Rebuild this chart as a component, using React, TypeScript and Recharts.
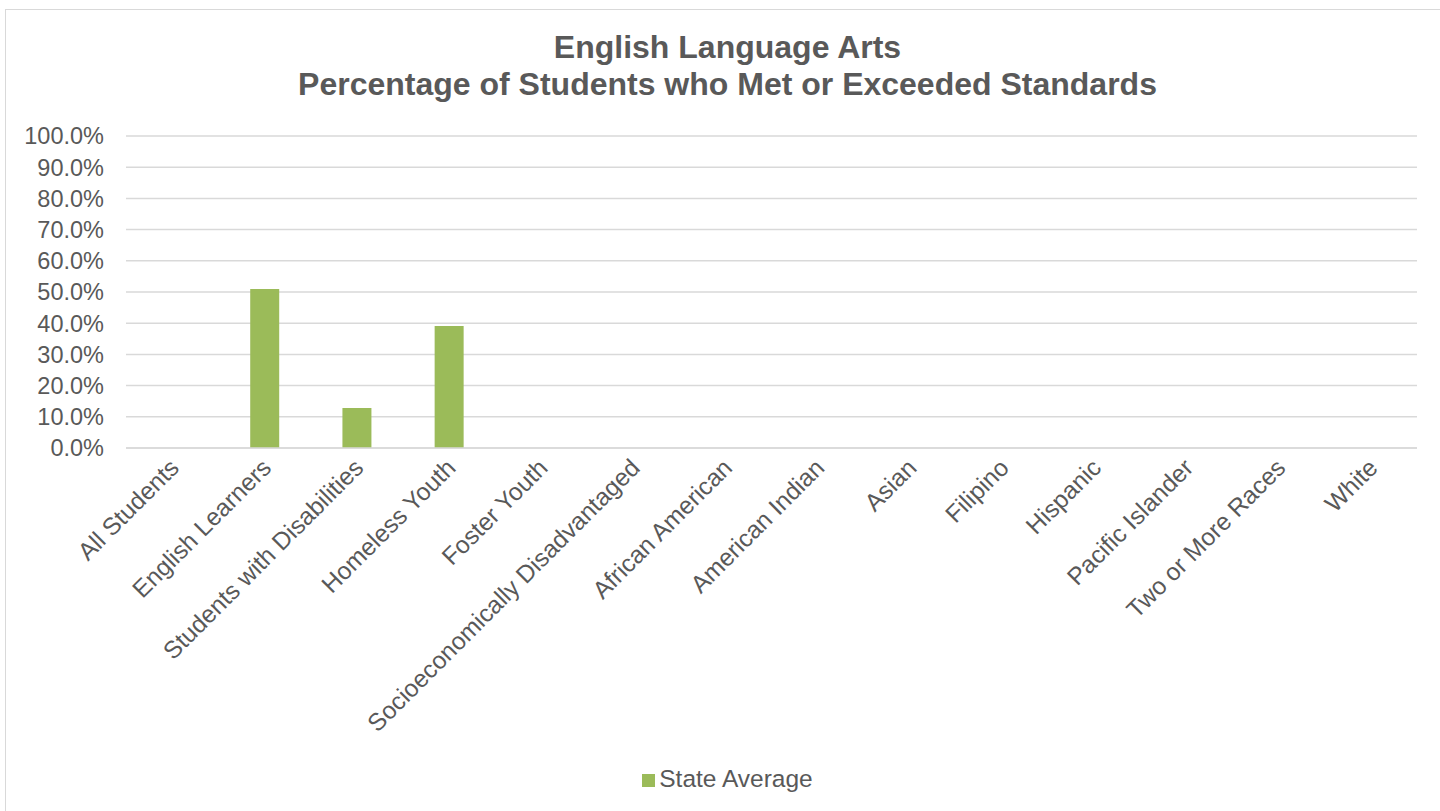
import React from 'react';
import { BarChart, Bar, XAxis, YAxis, CartesianGrid, Legend } from 'recharts';

const categories = [
  'All Students',
  'English Learners',
  'Students with Disabilities',
  'Homeless Youth',
  'Foster Youth',
  'Socioeconomically Disadvantaged',
  'African American',
  'American Indian',
  'Asian',
  'Filipino',
  'Hispanic',
  'Pacific Islander',
  'Two or More Races',
  'White',
];

const stateAverage: (number | null)[] = [
  null, 0.51, 0.128, 0.391, null, null, null, null, null, null, null, null, null, null,
];

const yTicks = [0, 0.1, 0.2, 0.3, 0.4, 0.5, 0.6, 0.7, 0.8, 0.9, 1.0];

const titleLines = ['English Language Arts', 'Percentage of Students who Met or Exceeded Standards'];

const data = categories.map((name, i) => ({ name, stateAverage: stateAverage[i] }));

const textColor = '#595959';
const gridColor = '#d9d9d9';
const font = '"Liberation Sans", Arial, sans-serif';

const App: React.FC = () => {
  return (
    <div
      style={{
        position: 'absolute',
        left: 0,
        top: 0,
        width: 1440,
        height: 811,
        overflow: 'hidden',
        background: '#fff',
        fontFamily: font,
      }}
    >
      <div
        style={{
          position: 'absolute',
          left: 5,
          top: 9,
          width: 1460,
          height: 820,
          border: `1px solid ${gridColor}`,
        }}
      />
      <div
        style={{
          position: 'absolute',
          left: 0,
          top: 29,
          width: 1455,
          textAlign: 'center',
          fontSize: 32,
          lineHeight: '37px',
          fontWeight: 'bold',
          color: textColor,
        }}
      >
        {titleLines.map((t) => (
          <div key={t}>{t}</div>
        ))}
      </div>
      <div style={{ position: 'absolute', left: 0, top: 0 }}>
        <BarChart
          width={1440}
          height={811}
          data={data}
          margin={{ top: 136, right: 23, left: 0, bottom: 0 }}
          barSize={29}
        >
          <CartesianGrid vertical={false} stroke={gridColor} strokeWidth={1.5} />
          <XAxis
            dataKey="name"
            interval={0}
            angle={-45}
            textAnchor="end"
            height={363}
            tickLine={false}
            tickSize={0}
            tickMargin={9}
            axisLine={{ stroke: gridColor, strokeWidth: 1.5 }}
            tick={{ fill: textColor, fontSize: 24.5, fontFamily: font, dx: -4 }}
          />
          <YAxis
            width={126}
            domain={[0, 1]}
            ticks={yTicks}
            interval={0}
            tickLine={false}
            axisLine={false}
            tickSize={0}
            tickMargin={22}
            tickFormatter={(v: number) => `${(v * 100).toFixed(1)}%`}
            tick={{ fill: textColor, fontSize: 23.5, fontFamily: font }}
          />
          <Legend
            verticalAlign="middle"
            align="center"
            layout="horizontal"
            iconType="square"
            iconSize={13}
            wrapperStyle={{ top: 765, left: 5, width: 1455, fontSize: 24.5, fontFamily: font }}
            formatter={(value: string) => <span style={{ color: textColor }}>{value}</span>}
          />
          <Bar dataKey="stateAverage" name="State Average" fill="#9bbb59" isAnimationActive={false} />
        </BarChart>
      </div>
    </div>
  );
};

export default App;
